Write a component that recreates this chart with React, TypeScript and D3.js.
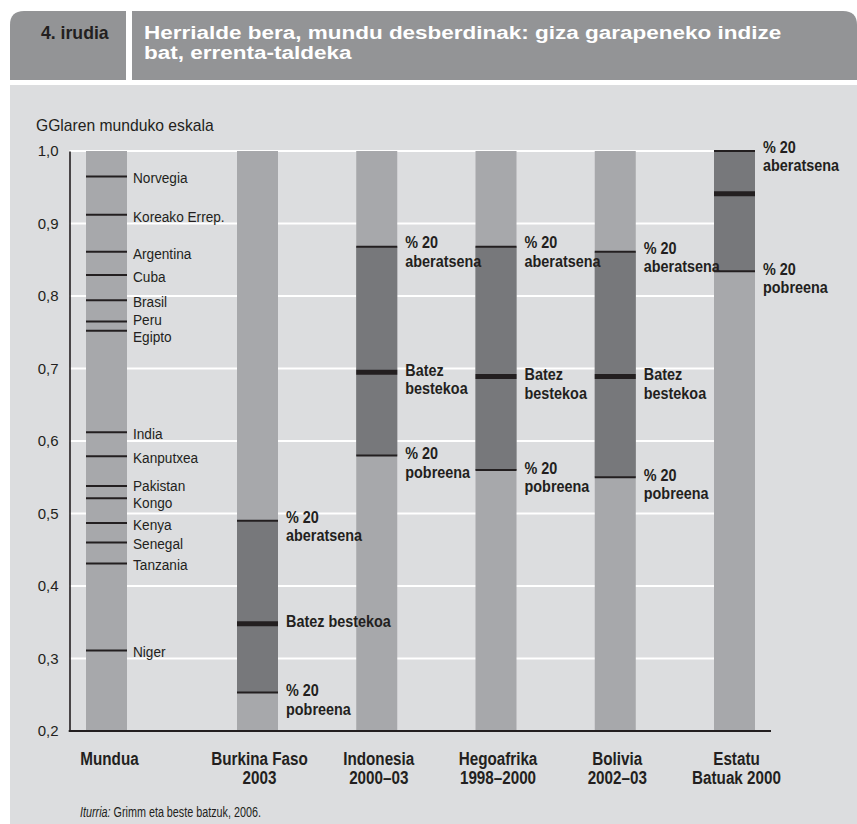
import React, { useRef, useEffect } from "react";
import * as d3 from "d3";

// y axis ticks
const yTicks = [0.2, 0.3, 0.4, 0.5, 0.6, 0.7, 0.8, 0.9, 1.0];

// world scale (Mundua column)
const worldCountries = [
  "Norvegia", "Koreako Errep.", "Argentina", "Cuba", "Brasil", "Peru", "Egipto",
  "India", "Kanputxea", "Pakistan", "Kongo", "Kenya", "Senegal", "Tanzania", "Niger",
];
const worldHdi = [
  0.965, 0.912, 0.861, 0.829, 0.794, 0.765, 0.752,
  0.612, 0.579, 0.538, 0.521, 0.487, 0.46, 0.431, 0.311,
];

// income groups per country
const countries = ["Burkina Faso", "Indonesia", "Hegoafrika", "Bolivia", "Estatu Batuak"];
const countryLabels = [
  ["Burkina Faso", "2003"],
  ["Indonesia", "2000–03"],
  ["Hegoafrika", "1998–2000"],
  ["Bolivia", "2002–03"],
  ["Estatu", "Batuak 2000"],
];
const richest = [0.49, 0.868, 0.868, 0.861, 1.0];
const average = [0.348, 0.695, 0.689, 0.689, 0.941];
const poorest = [0.253, 0.58, 0.56, 0.55, 0.834];
const richLabel = ["% 20", "aberatsena"];
const poorLabel = ["% 20", "pobreena"];
const avgLabels = [["Batez bestekoa"], ["Batez", "bestekoa"], ["Batez", "bestekoa"], ["Batez", "bestekoa"], []];

const FONT = "'Liberation Sans', Arial, Helvetica, sans-serif";
const INK = "#231f20";

type Opt = { size: number; sx?: number; bold?: boolean; anchor?: string; lh?: number; fill?: string; dy?: string };

// text squeezed horizontally to mimic the condensed face of the original
function label(parent: any, x: number, y: number, lines: string[], o: Opt) {
  const g = parent.append("g").attr("transform", `translate(${x},${y}) scale(${o.sx ?? 1},1)`);
  const t = g.append("text")
    .style("font-family", FONT)
    .style("font-size", `${o.size}px`)
    .style("font-weight", o.bold ? "bold" : "normal")
    .attr("text-anchor", o.anchor ?? "start")
    .attr("fill", o.fill ?? INK);
  lines.forEach((ln, k) => {
    t.append("tspan").attr("x", 0).attr("dy", k === 0 ? (o.dy ?? "0") : `${o.lh ?? 1.2}em`).text(ln);
  });
  return t;
}

export default function App() {
  const svgRef = useRef<SVGSVGElement>(null);

  useEffect(() => {
    const svg = d3.select(svgRef.current);
    svg.selectAll("*").remove();

    const width = 857;
    const height = 824;
    const plot = { top: 151, bottom: 731, left: 69.5, right: 771 };
    const barW = 41;

    const y = d3.scaleLinear().domain([0.2, 1.0]).range([plot.bottom, plot.top]);
    const x = d3.scalePoint<string>().domain(countries).range([257.5, 734.5]);
    const worldX = plot.left + 37;
    const fmt = (v: number) => d3.format(".1f")(v).replace(".", ",");

    // header
    const hx = 10, hy = 11, hr = 14, hb = 80;
    svg.append("path")
      .attr("d", `M${hx},${hb} V${hy + hr} Q${hx},${hy} ${hx + hr},${hy} H${width - hr} Q${width},${hy} ${width},${hy + hr} V${hb} Z`)
      .attr("fill", "#939496");
    svg.append("rect").attr("x", 126).attr("y", hy).attr("width", 6).attr("height", hb - hy).attr("fill", "#fff");
    label(svg, 41, 39, ["4. irudia"], { size: 18, bold: true, sx: 0.98 });
    label(svg, 144, 39, ["Herrialde bera, mundu desberdinak: giza garapeneko indize", "bat, errenta-taldeka"],
      { size: 18, bold: true, sx: 1.25, fill: "#fff", lh: 1.11 });

    // panel
    svg.append("rect").attr("x", hx).attr("y", 85).attr("width", width - hx).attr("height", height - 85).attr("fill", "#dcdddf");

    label(svg, 36, 131, ["GGlaren munduko eskala"], { size: 16, sx: 0.98 });

    // gridlines
    svg.append("g")
      .selectAll("line")
      .data(yTicks.slice(1))
      .join("line")
      .attr("x1", plot.left).attr("x2", x(countries[countries.length - 1])! - barW / 2)
      .attr("y1", d => y(d)).attr("y2", d => y(d))
      .attr("stroke", "#fff").attr("stroke-width", 2);

    // y axis
    const yAxis = svg.append("g")
      .attr("transform", `translate(${plot.left},0)`)
      .call(d3.axisLeft(y).tickValues(yTicks).tickFormat(d => fmt(d as number)).tickSize(0).tickPadding(11));
    yAxis.select(".domain").attr("stroke", INK).attr("stroke-width", 1.6);
    yAxis.selectAll("text")
      .style("font-family", FONT).style("font-size", "15px").attr("fill", INK);

    // world column
    svg.append("rect")
      .attr("x", worldX - barW / 2).attr("y", y(1)).attr("width", barW).attr("height", y(0.2) - y(1))
      .attr("fill", "#a7a8ab");
    svg.append("g")
      .selectAll("line")
      .data(worldHdi)
      .join("line")
      .attr("x1", worldX - barW / 2).attr("x2", worldX + barW / 2)
      .attr("y1", d => y(d)).attr("y2", d => y(d))
      .attr("stroke", INK).attr("stroke-width", 2);

    // world labels, spread to avoid overlap
    const pos = worldHdi.map(v => y(v));
    const gap = 17;
    for (let it = 0; it < 60; it++) {
      for (let i = 1; i < pos.length; i++) {
        const d = pos[i] - pos[i - 1];
        if (d < gap) {
          const shift = (gap - d) / 2;
          pos[i - 1] -= shift;
          pos[i] += shift;
        }
      }
    }
    worldCountries.forEach((c, i) => {
      label(svg, worldX + barW / 2 + 6, pos[i] + 1.5, [c], { size: 15.5, sx: 0.88, dy: "0.35em" });
    });

    // country columns
    const cols = svg.append("g")
      .selectAll("g")
      .data(countries)
      .join("g");

    cols.append("rect")
      .attr("x", d => x(d)! - barW / 2).attr("y", y(1)).attr("width", barW).attr("height", y(0.2) - y(1))
      .attr("fill", "#a7a8ab");
    cols.append("rect")
      .attr("x", d => x(d)! - barW / 2).attr("width", barW)
      .attr("y", (_, i) => y(richest[i]))
      .attr("height", (_, i) => y(poorest[i]) - y(richest[i]))
      .attr("fill", "#77787b");
    [richest, poorest].forEach(arr => {
      cols.append("line")
        .attr("x1", d => x(d)! - barW / 2).attr("x2", d => x(d)! + barW / 2)
        .attr("y1", (_, i) => y(arr[i])).attr("y2", (_, i) => y(arr[i]))
        .attr("stroke", INK).attr("stroke-width", 2);
    });
    cols.append("line")
      .attr("x1", d => x(d)! - barW / 2).attr("x2", d => x(d)! + barW / 2)
      .attr("y1", (_, i) => y(average[i])).attr("y2", (_, i) => y(average[i]))
      .attr("stroke", INK).attr("stroke-width", 5);

    // column annotations, on top of every bar
    const notes = svg.append("g");
    const bold = { size: 16, bold: true, sx: 0.9, dy: "0.36em", lh: 1.15 };
    countries.forEach((c, i) => {
      const lx = x(c)! + barW / 2 + 8;
      label(notes, lx, y(richest[i]) - 4, richLabel, bold);
      label(notes, lx, y(poorest[i]) - 2, poorLabel, bold);
      if (avgLabels[i].length) label(notes, lx, y(average[i]) - 2, avgLabels[i], bold);
    });

    // bottom axis line
    svg.append("line")
      .attr("x1", plot.left - 0.8).attr("x2", plot.right)
      .attr("y1", plot.bottom).attr("y2", plot.bottom)
      .attr("stroke", INK).attr("stroke-width", 2);

    // category labels
    const cat = { size: 17.5, bold: true, sx: 0.87, anchor: "middle", lh: 1.1 };
    label(svg, worldX + 3, 765, ["Mundua"], cat);
    countries.forEach((c, i) => label(svg, x(c)! + 2, 765, countryLabels[i], cat));

    // source
    const src = label(svg, 80, 817, [""], { size: 15, sx: 0.72 });
    src.select("tspan").remove();
    src.append("tspan").style("font-style", "italic").text("Iturria:");
    src.append("tspan").text(" Grimm eta beste batzuk,  2006.");
  }, []);

  return (
    <svg
      ref={svgRef}
      width={857}
      height={824}
      viewBox="0 0 857 824"
      style={{ position: "absolute", left: 0, top: 0, background: "#fff" }}
    />
  );
}
